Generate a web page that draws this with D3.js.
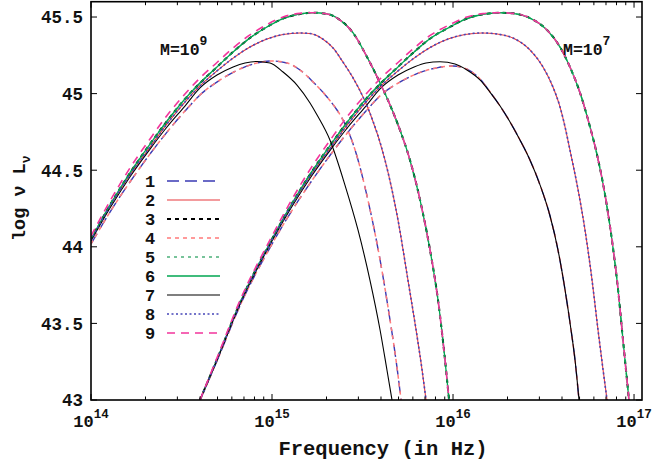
<!DOCTYPE html>
<meta charset="utf-8">
<script src="https://d3js.org/d3.v7.min.js"></script>
<style>
  body { margin: 0; background: #fff; }
  .lbl { font-family: "Liberation Mono", "DejaVu Sans Mono", monospace; font-weight: bold; fill: #111; }
</style>
<body>
<script>
// curves as [log10 nu, log10 nu L_nu]
var m9_top = [[14.000,44.051],[14.105,44.273],[14.215,44.482],[14.326,44.671],[14.420,44.821],[14.519,44.965],[14.602,45.069],[14.696,45.174],[14.785,45.272],[14.878,45.363],[14.972,45.435],[15.061,45.490],[15.155,45.520],[15.227,45.528],[15.304,45.520],[15.376,45.480],[15.448,45.396],[15.525,45.239],[15.597,45.069],[15.652,44.926],[15.707,44.762],[15.762,44.567],[15.818,44.305],[15.873,43.979],[15.917,43.653],[15.950,43.326],[15.978,43.000]];
var m9_top9 = [[14.000,44.070],[14.105,44.299],[14.215,44.514],[14.326,44.704],[14.420,44.857],[14.519,44.997],[14.602,45.102],[14.696,45.203],[14.785,45.298],[14.878,45.383],[14.972,45.451],[15.061,45.500],[15.155,45.524],[15.227,45.528],[15.304,45.520],[15.376,45.480],[15.448,45.396],[15.525,45.239],[15.597,45.069],[15.652,44.926],[15.707,44.762],[15.762,44.567],[15.818,44.305],[15.873,43.979],[15.917,43.653],[15.950,43.326],[15.978,43.000]];
var m9_mid = [[14.000,44.044],[14.105,44.266],[14.215,44.469],[14.326,44.651],[14.420,44.802],[14.519,44.945],[14.602,45.050],[14.696,45.148],[14.785,45.232],[14.878,45.304],[14.972,45.356],[15.061,45.386],[15.155,45.396],[15.210,45.392],[15.282,45.355],[15.337,45.298],[15.392,45.206],[15.448,45.102],[15.503,44.978],[15.541,44.873],[15.624,44.567],[15.696,44.175],[15.751,43.783],[15.796,43.457],[15.829,43.196],[15.851,43.000]];
var m9_low = [[14.000,44.018],[14.105,44.227],[14.215,44.423],[14.326,44.606],[14.420,44.749],[14.519,44.886],[14.602,44.991],[14.713,45.089],[14.823,45.161],[14.917,45.200],[15.000,45.213],[15.083,45.200],[15.155,45.154],[15.227,45.076],[15.304,44.978],[15.359,44.893],[15.392,44.828],[15.459,44.632],[15.530,44.305],[15.597,43.914],[15.652,43.522],[15.685,43.261],[15.713,43.000]];
var m9_blk = [[14.000,44.038],[14.105,44.253],[14.215,44.456],[14.326,44.638],[14.420,44.782],[14.519,44.919],[14.602,45.037],[14.696,45.121],[14.785,45.174],[14.851,45.200],[14.917,45.210],[14.989,45.200],[15.061,45.141],[15.138,45.056],[15.210,44.939],[15.249,44.860],[15.320,44.697],[15.403,44.403],[15.475,44.110],[15.541,43.783],[15.597,43.457],[15.635,43.196],[15.663,43.000]];

var m7_top = [[14.602,43.000],[14.696,43.265],[14.823,43.635],[15.000,44.051],[15.105,44.273],[15.215,44.482],[15.326,44.671],[15.420,44.821],[15.519,44.965],[15.602,45.069],[15.696,45.174],[15.785,45.272],[15.878,45.363],[15.983,45.435],[16.077,45.490],[16.166,45.518],[16.260,45.528],[16.331,45.524],[16.425,45.493],[16.519,45.415],[16.591,45.304],[16.646,45.174],[16.702,45.004],[16.757,44.782],[16.796,44.599],[16.840,44.338],[16.878,44.044],[16.912,43.718],[16.939,43.392],[16.961,43.131],[16.972,43.000]];
var m7_top9 = [[14.602,43.000],[14.696,43.275],[14.823,43.650],[15.000,44.070],[15.105,44.299],[15.215,44.514],[15.326,44.704],[15.420,44.857],[15.519,44.997],[15.602,45.102],[15.696,45.203],[15.785,45.298],[15.878,45.383],[15.983,45.451],[16.077,45.500],[16.166,45.522],[16.260,45.528],[16.331,45.524],[16.425,45.493],[16.519,45.415],[16.591,45.304],[16.646,45.174],[16.702,45.004],[16.757,44.782],[16.796,44.599],[16.840,44.338],[16.878,44.044],[16.912,43.718],[16.939,43.392],[16.961,43.131],[16.972,43.000]];
var m7_mid = [[14.602,43.000],[14.696,43.262],[14.823,43.628],[15.000,44.044],[15.105,44.266],[15.215,44.469],[15.326,44.651],[15.420,44.802],[15.519,44.945],[15.602,45.050],[15.696,45.148],[15.785,45.232],[15.878,45.304],[15.972,45.356],[16.066,45.386],[16.160,45.396],[16.243,45.389],[16.331,45.363],[16.425,45.285],[16.497,45.174],[16.552,45.043],[16.591,44.913],[16.619,44.782],[16.646,44.632],[16.691,44.371],[16.729,44.110],[16.768,43.783],[16.801,43.457],[16.829,43.196],[16.851,43.000]];
var m7_low = [[14.602,43.000],[14.696,43.255],[14.823,43.615],[15.000,44.018],[15.105,44.227],[15.215,44.423],[15.326,44.606],[15.420,44.749],[15.519,44.886],[15.602,44.991],[15.713,45.080],[15.823,45.140],[15.917,45.170],[16.000,45.180],[16.077,45.160],[16.149,45.095],[16.204,45.012],[16.260,44.919],[16.315,44.815],[16.370,44.697],[16.425,44.567],[16.481,44.403],[16.536,44.201],[16.580,43.979],[16.619,43.718],[16.652,43.457],[16.674,43.261],[16.696,43.000]];
var m7_blk = [[14.602,43.000],[14.696,43.260],[14.823,43.625],[15.000,44.038],[15.105,44.253],[15.215,44.456],[15.326,44.638],[15.420,44.782],[15.519,44.919],[15.602,45.037],[15.696,45.121],[15.785,45.174],[15.851,45.200],[15.928,45.208],[16.011,45.193],[16.077,45.154],[16.149,45.089],[16.204,45.010],[16.260,44.919],[16.315,44.815],[16.370,44.697],[16.425,44.567],[16.481,44.403],[16.536,44.201],[16.580,43.979],[16.619,43.718],[16.652,43.457],[16.674,43.261],[16.696,43.000]];

var seriesNames = ["1","2","3","4","5","6","7","8","9"];
var seriesM9 = [m9_low, m9_mid, m9_top, m9_low, m9_top, m9_top, m9_blk, m9_mid, m9_top9];
var seriesM7 = [m7_low, m7_mid, m7_top, m7_low, m7_top, m7_top, m7_blk, m7_mid, m7_top9];

var xMajor = [14, 15, 16, 17];
var yTicks = [43, 43.5, 44, 44.5, 45, 45.5];

// styles per series
var colors = ["#3a3ab4","#e8383d","#000000","#ff7a7a","#4cb07a","#00a651","#000000","#4646b8","#f2359c"];
var widths = [1.4, 1.1, 2.0, 1.5, 1.5, 1.3, 1.1, 1.6, 1.6];
var dashes = ["12,6", null, "4,4", "4,4", "3,4", null, null, "2,2.5", "8,6"];

var W = 654, H = 468;
var svg = d3.select("body").append("svg")
    .attr("width", W)
    .attr("height", H);

var x = d3.scaleLinear().domain([14, 17.044]).range([91, 642]);
var y = d3.scaleLinear().domain([43, 45.6]).range([400, 1.7]);

svg.append("clipPath").attr("id", "clip")
  .append("rect")
    .attr("x", x(14)).attr("y", y(45.6))
    .attr("width", x(17.044) - x(14)).attr("height", y(43) - y(45.6));

var line = d3.line()
    .x(function(d) { return x(d[0]); })
    .y(function(d) { return y(d[1]); })
    .curve(d3.curveMonotoneX);

var plot = svg.append("g").attr("clip-path", "url(#clip)");
seriesNames.forEach(function(n, i) {
  [seriesM9[i], seriesM7[i]].forEach(function(data) {
    plot.append("path")
      .datum(data)
      .attr("d", line)
      .attr("fill", "none")
      .attr("stroke", colors[i])
      .attr("stroke-width", widths[i])
      .attr("stroke-dasharray", dashes[i]);
  });
});

// frame
svg.append("rect")
    .attr("x", x(14)).attr("y", y(45.6))
    .attr("width", x(17.044) - x(14)).attr("height", y(43) - y(45.6))
    .attr("fill", "none").attr("stroke", "#000").attr("stroke-width", 1.6);

// x ticks, major + minor, inward on top and bottom
var xMinor = [];
xMajor.slice(0, 3).forEach(function(d) {
  for (var k = 2; k <= 9; k++) xMinor.push(d + Math.log10(k));
});
var tk = svg.append("g").attr("stroke", "#000").attr("stroke-width", 1);
xMajor.forEach(function(d) {
  tk.append("line").attr("x1", x(d)).attr("x2", x(d)).attr("y1", y(43)).attr("y2", y(43) - 6);
  tk.append("line").attr("x1", x(d)).attr("x2", x(d)).attr("y1", y(45.6)).attr("y2", y(45.6) + 6);
});
xMinor.forEach(function(d) {
  tk.append("line").attr("x1", x(d)).attr("x2", x(d)).attr("y1", y(43)).attr("y2", y(43) - 3.5);
  tk.append("line").attr("x1", x(d)).attr("x2", x(d)).attr("y1", y(45.6)).attr("y2", y(45.6) + 3.5);
});
yTicks.forEach(function(d) {
  tk.append("line").attr("x1", x(14)).attr("x2", x(14) + 6).attr("y1", y(d)).attr("y2", y(d));
  tk.append("line").attr("x1", x(17.044)).attr("x2", x(17.044) - 6).attr("y1", y(d)).attr("y2", y(d));
});

// tick labels
xMajor.forEach(function(d) {
  var t = svg.append("text").attr("class", "lbl")
      .attr("x", x(d)).attr("y", 427)
      .attr("text-anchor", "middle")
      .style("font-size", "17px");
  t.append("tspan").text("10");
  t.append("tspan").attr("dy", -9).style("font-size", "12.5px").text(String(d));
});
yTicks.forEach(function(d) {
  svg.append("text").attr("class", "lbl")
      .attr("x", 83).attr("y", y(d)).attr("dy", "0.36em")
      .attr("text-anchor", "end")
      .style("font-size", "17.5px")
      .text(d % 1 === 0 ? String(d) : d.toFixed(1));
});

// axis titles
svg.append("text").attr("class", "lbl")
    .attr("x", 383).attr("y", 455)
    .attr("text-anchor", "middle")
    .style("font-size", "20.5px")
    .text("Frequency (in Hz)");

var yt = svg.append("text").attr("class", "lbl")
    .attr("transform", "translate(25,241) rotate(-90)")
    .style("font-size", "18.5px");
yt.append("tspan").text("log \u03bd L");
yt.append("tspan").attr("dy", 5).style("font-size", "13px").text("\u03bd");

// mass labels
[["9", 160], ["7", 563]].forEach(function(m) {
  var t = svg.append("text").attr("class", "lbl")
      .attr("x", m[1]).attr("y", 55)
      .style("font-size", "16.5px");
  t.append("tspan").text("M=10");
  t.append("tspan").attr("dy", -10).style("font-size", "13px").text(m[0]);
});

// legend
var leg = svg.append("g");
seriesNames.forEach(function(n, i) {
  var yy = 181 + 19 * i;
  leg.append("text").attr("class", "lbl")
      .attr("x", 150).attr("y", yy).attr("dy", "0.36em")
      .attr("text-anchor", "middle")
      .style("font-size", "17px")
      .text(n);
  leg.append("line")
      .attr("x1", 167).attr("x2", 220).attr("y1", yy).attr("y2", yy)
      .attr("stroke", colors[i])
      .attr("stroke-width", widths[i])
      .attr("stroke-dasharray", dashes[i]);
});
</script>
</body>
</html>
